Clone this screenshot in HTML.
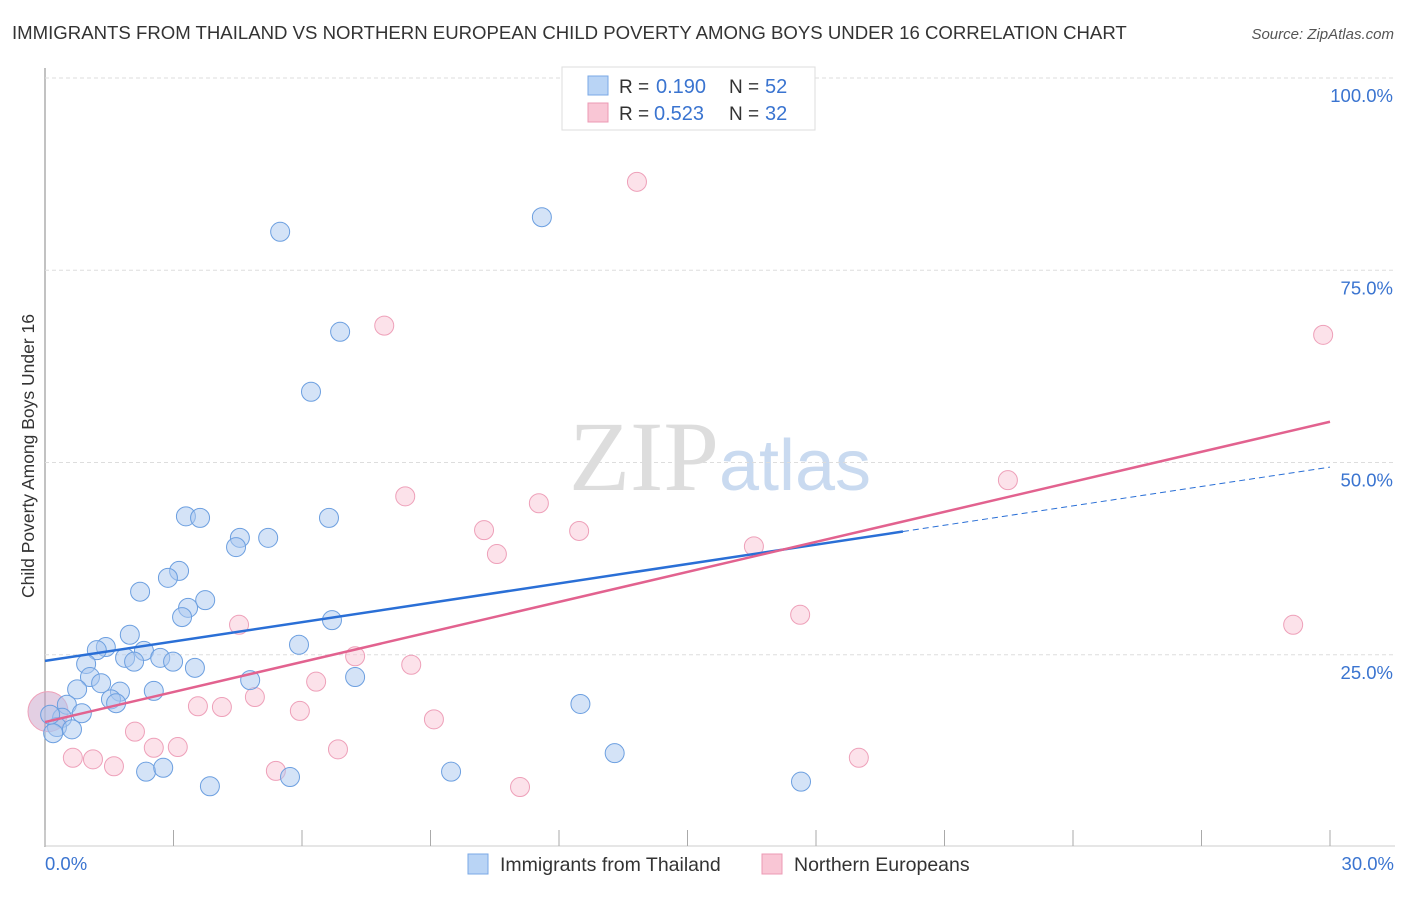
<!DOCTYPE html>
<html><head><meta charset="utf-8"><style>
body{margin:0;background:#fff;font-family:"Liberation Sans",sans-serif}
</style></head><body>
<svg width="1406" height="892" viewBox="0 0 1406 892" xmlns="http://www.w3.org/2000/svg">
<text x="12" y="39" font-size="18.6" fill="#333">IMMIGRANTS FROM THAILAND VS NORTHERN EUROPEAN CHILD POVERTY AMONG BOYS UNDER 16 CORRELATION CHART</text>
<text x="1394" y="39" font-size="15" fill="#555" font-style="italic" text-anchor="end">Source: ZipAtlas.com</text>
<text x="720" y="490" font-size="100" fill="#ddd" text-anchor="middle" font-family="Liberation Serif,serif">ZIP<tspan fill="#c9daf0" font-family="Liberation Sans,sans-serif" font-size="72">atlas</tspan></text>
<g id="grid"></g>
<g id="marks"></g>
<text transform="translate(34,456) rotate(-90)" font-size="17.5" fill="#333" text-anchor="middle">Child Poverty Among Boys Under 16</text>
<g>
<rect x="562" y="67" width="253" height="63" fill="#fff" stroke="#ddd"/>
<rect x="588" y="76" width="20" height="19" fill="#b9d4f5" stroke="#7aa8e6"/>
<rect x="588" y="103" width="20" height="19" fill="#f9c6d5" stroke="#ec9ab4"/>
<text x="619" y="93" font-size="19" fill="#333">R =</text>
<text x="656" y="93" font-size="20" fill="#3a74d0">0.190</text>
<text x="729" y="93" font-size="19" fill="#333">N =</text>
<text x="765" y="93" font-size="20" fill="#3a74d0">52</text>
<text x="619" y="120" font-size="19" fill="#333">R =</text>
<text x="654" y="120" font-size="20" fill="#3a74d0">0.523</text>
<text x="729" y="120" font-size="19" fill="#333">N =</text>
<text x="765" y="120" font-size="20" fill="#3a74d0">32</text>
</g>
<g>
<rect x="468" y="854" width="20" height="20" fill="#b9d4f5" stroke="#7aa8e6"/>
<text x="500" y="871" font-size="19.5" fill="#333">Immigrants from Thailand</text>
<rect x="762" y="854" width="20" height="20" fill="#f9c6d5" stroke="#ec9ab4"/>
<text x="794" y="871" font-size="19.5" fill="#333">Northern Europeans</text>
</g>
</svg>
<script>
const xTickVals=[0,3,6,9,12,15,18,21,24,27,30];
const yTickVals=[25,50,75,100];
const yTickLabels=["25.0%","50.0%","75.0%","100.0%"];
const xEndLabels=["0.0%","30.0%"];
const blueX=[5.49,11.6,6.89,6.21,3.29,3.62,6.63,4.55,5.21,4.46,3.13,2.87,2.22,3.74,3.34,3.2,6.7,1.98,1.42,1.21,2.31,5.93,2.69,1.87,2.08,2.99,0.96,3.5,1.05,1.31,4.79,7.24,1.75,0.75,2.54,1.54,1.66,0.51,12.5,0.86,0.4,0.28,0.63,0.19,13.3,2.36,2.76,5.72,9.48,3.85,17.65,0.12];
const blueY=[80,81.9,67,59.2,43,42.8,42.8,40.2,40.2,39,35.9,35,33.2,32.1,31.1,29.9,29.5,27.6,26,25.6,25.5,26.3,24.6,24.6,24.1,24.1,23.8,23.3,22.1,21.3,21.7,22.1,20.2,20.5,20.3,19.2,18.7,18.5,18.6,17.4,16.8,15.6,15.3,14.8,12.2,9.8,10.3,9.1,9.8,7.9,8.5,17.2];
const pinkX=[13.82,7.92,29.84,22.48,8.41,11.53,10.25,12.47,10.55,16.55,17.63,4.53,29.14,7.24,8.55,6.33,4.9,3.57,4.13,5.95,9.08,2.1,2.54,3.1,6.84,5.39,0.65,1.12,1.61,11.09,19.0,0.07];
const pinkY=[86.5,67.8,66.6,47.7,45.6,44.7,41.2,41.1,38.1,39.1,30.2,28.9,28.9,24.8,23.7,21.5,19.5,18.3,18.2,17.7,16.6,15.0,12.9,13.0,12.7,9.9,11.6,11.4,10.5,7.8,11.6,17.6];
const blueTrend=[24.2,49.4];
const blueSolidEnd=20.03;
const pinkTrend=[16.25,55.3];
const NS="http://www.w3.org/2000/svg";
const X=v=>45+v*(1285/30);
const Y=v=>847-v*7.69;
const grid=document.getElementById('grid'),marks=document.getElementById('marks');
function mk(tag,attrs,parent){const e=document.createElementNS(NS,tag);for(const k in attrs)e.setAttribute(k,attrs[k]);parent.appendChild(e);return e;}
let ax=mk('line',{x1:45,y1:68,x2:45,y2:847,stroke:'#999','stroke-width':1.2},grid);


let bx=mk('line',{x1:45,y1:846,x2:1395,y2:846,stroke:'#ccc','stroke-width':1},grid);


yTickVals.forEach((v,i)=>{
 let g=mk('line',{x1:45,y1:Y(v),x2:1395,y2:Y(v),stroke:'#ddd','stroke-dasharray':'4,3'},grid);
 
 
 let t=mk('text',{x:1393,y:Y(v)+24,'font-size':18.5,fill:'#3a74d0','text-anchor':'end'},grid);t.textContent=yTickLabels[i];
 
 
});
xTickVals.forEach(v=>{
 let t=mk('line',{x1:X(v),y1:830,x2:X(v),y2:846,stroke:'#aaa'},grid);
 
 
});
[[0,'start',45],[30,'end',1394]].forEach((a,i)=>{
 let t=mk('text',{x:a[2],y:870,'font-size':18.5,fill:'#3a74d0','text-anchor':a[1]},grid);t.textContent=xEndLabels[i];
 
 
});
pinkX.forEach((x,i)=>{
 const big=i===pinkX.length-1;
 let c=mk('circle',{cx:X(x),cy:Y(pinkY[i]),r:big?20:9.5,fill:big?'rgba(200,160,200,0.5)':'rgba(248,190,208,0.45)',stroke:'#eea0b9','stroke-width':1},marks);
 
 
});
blueX.forEach((x,i)=>{
 let c=mk('circle',{cx:X(x),cy:Y(blueY[i]),r:9.5,fill:'rgba(170,200,240,0.5)',stroke:'#6c9fe0','stroke-width':1},marks);
 
 
});
const by=x=>blueTrend[0]+(blueTrend[1]-blueTrend[0])*x/30;
let l1=mk('line',{x1:X(0),y1:Y(by(0)),x2:X(blueSolidEnd),y2:Y(by(blueSolidEnd)),stroke:'#2a6fd6','stroke-width':2.5},marks);


let l2=mk('line',{x1:X(blueSolidEnd),y1:Y(by(blueSolidEnd)),x2:X(30),y2:Y(by(30)),stroke:'#2a6fd6','stroke-width':1,'stroke-dasharray':'6,4'},marks);


let l3=mk('line',{x1:X(0),y1:Y(pinkTrend[0]),x2:X(30),y2:Y(pinkTrend[1]),stroke:'#e2628f','stroke-width':2.5},marks);


</script>
</body></html>
